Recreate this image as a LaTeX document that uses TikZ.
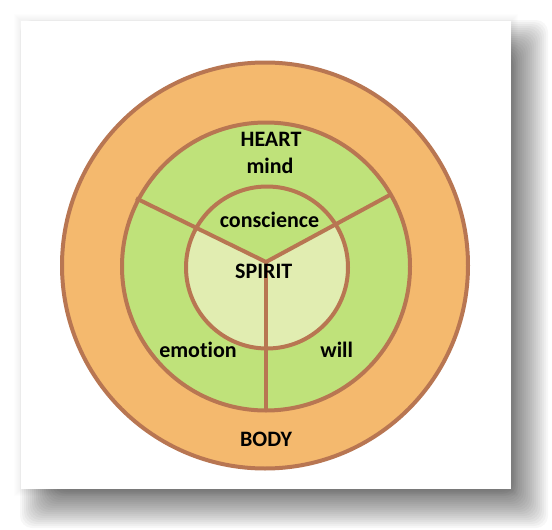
\documentclass[tikz,border=0pt]{standalone}
\usepackage{fontspec}
\setmainfont{Carlito}[Ligatures=NoCommon]
\definecolor{rim}{RGB}{184,118,82}
\definecolor{bodyfill}{RGB}{244,185,110}
\definecolor{heartfill}{RGB}{191,226,122}
\definecolor{spiritfill}{RGB}{225,237,177}
\tikzset{
  ring/.style={circle, draw=rim, line width=4pt, inner sep=0pt, outer sep=0pt},
  divider/.style={draw=rim, line width=4pt},
  lbl/.style={font=\fontsize{22}{26}\selectfont\bfseries, text=black, anchor=base, inner sep=0pt}
}
\begin{document}
\begin{tikzpicture}[x=1pt,y=-1pt]
\useasboundingbox (0,0) rectangle (552,530);
\fill[white] (0,0) rectangle (552,530);
% soft drop shadow
\foreach \i in {1,...,20}{
  \fill[black, opacity=0.03, rounded corners=12pt]
    (40-22+2*\i, 40-22+2*\i) rectangle (528+22-2*\i, 508+22-2*\i);
}
% faint glow around card
\foreach \i in {1,...,6}{
  \fill[black, opacity=0.008]
    (21-8+\i, 21-8+\i) rectangle (511+8-\i, 489+8-\i);
}
% card
\node[fill=white, inner sep=0pt, outer sep=0pt, minimum width=490pt, minimum height=468pt] (card) at (266,255) {};
% rings
\node[ring, fill=bodyfill, minimum size=406pt] (body) at (265,265.5) {};
\node[ring, fill=heartfill, minimum size=288pt] (heart) at (266,266.5) {};
\node[circle, fill=spiritfill, inner sep=0pt, outer sep=0pt, minimum size=162pt] (spiritbg) at (267,267.5) {};
\begin{scope}
  \clip (267,267.5) circle (81pt);
  \fill[heartfill] (266,262) -- (136,198.3) -- (120,100) -- (410,100) -- (391.7,194) -- cycle;
\end{scope}
\node[ring, minimum size=162pt] (spirit) at (267,267.5) {};
% dividers
\coordinate (J) at (266,262);
\coordinate (UL) at (136,198.3);
\coordinate (UR) at (391.7,194);
\coordinate (BT) at (266,410.5);
\draw[divider, line join=round] (UL) -- (J) -- (UR);
\draw[divider] (J) -- (BT);
% labels
\node[lbl] (heartlbl) at (271,146) {HEART};
\node[lbl] (mindlbl) at (270,173.3) {mind};
\node[lbl] (conslbl) at (269.5,227.3) {conscience};
\node[lbl] (spiritlbl) at (263.7,278.3) {SPIRIT};
\node[lbl] (emolbl) at (198,357.7) {emotion};
\node[lbl] (willlbl) at (336.7,357.7) {will};
\node[lbl] (bodylbl) at (266,446) {BODY};
\end{tikzpicture}
\end{document}
